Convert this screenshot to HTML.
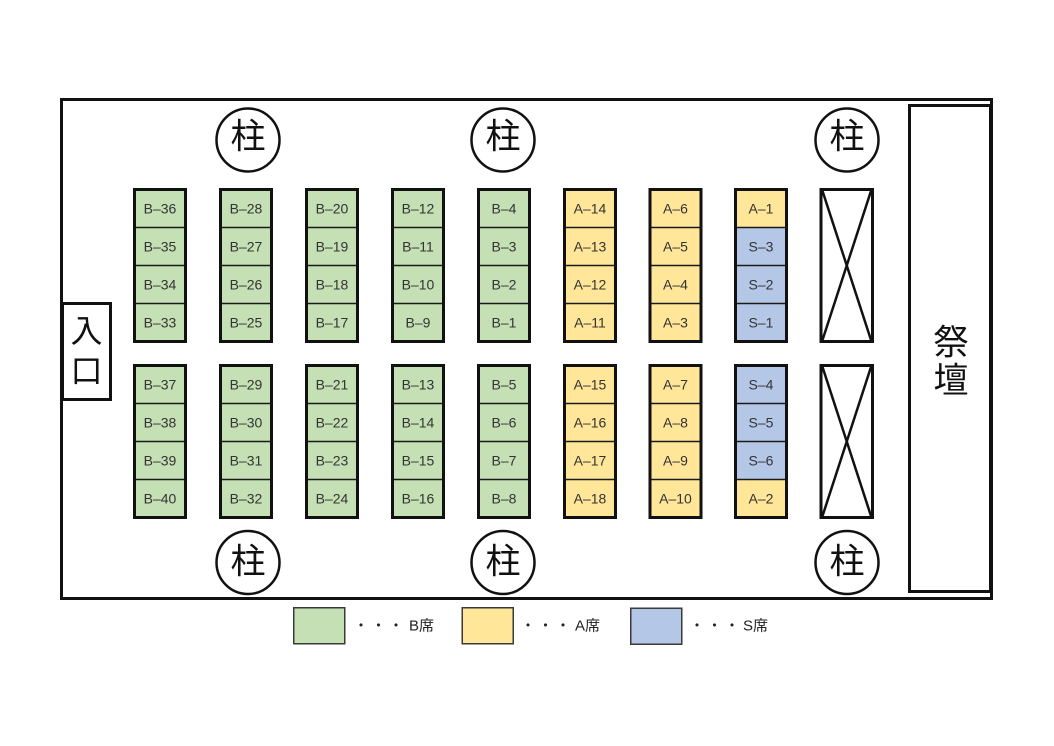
<!DOCTYPE html>
<html>
<head>
<meta charset="utf-8">
<style>
  html, body { margin: 0; padding: 0; background: #ffffff; }
  svg { display: block; }
  .lbl { font-family: "Liberation Sans", "Noto Sans CJK JP", sans-serif; font-size: 14px; fill: #333333; text-anchor: middle; dominant-baseline: central; }
  .big { font-family: "Liberation Sans", "Noto Sans CJK JP", sans-serif; fill: #111111; text-anchor: middle; dominant-baseline: central; }
  .leg { font-family: "Liberation Sans", "Noto Sans CJK JP", sans-serif; font-size: 15px; fill: #222222; dominant-baseline: central; }
</style>
</head>
<body>
<svg width="1054" height="746" viewBox="0 0 1054 746" xmlns="http://www.w3.org/2000/svg">
  <defs>
    <g id="div">
      <line x1="1.5" y1="39.5" x2="52.5" y2="39.5" stroke="#1a1a1a" stroke-width="1.5"/>
      <line x1="1.5" y1="77.5" x2="52.5" y2="77.5" stroke="#1a1a1a" stroke-width="1.5"/>
      <line x1="1.5" y1="115.5" x2="52.5" y2="115.5" stroke="#1a1a1a" stroke-width="1.5"/>
      <rect x="1.5" y="1.5" width="51" height="152" fill="none" stroke="#111111" stroke-width="3"/>
    </g>
  </defs>

  <rect x="0" y="0" width="1054" height="746" fill="#ffffff"/>

  <!-- outer room -->
  <rect x="61.5" y="99.5" width="930" height="499" fill="#ffffff" stroke="#111111" stroke-width="3"/>

  <!-- altar -->
  <rect x="909.5" y="105.5" width="81" height="486" fill="#ffffff" stroke="#111111" stroke-width="3"/>
  <text class="big" x="951" y="343" font-size="35">祭</text>
  <text class="big" x="951" y="381" font-size="35">壇</text>

  <!-- entrance -->
  <rect x="62.5" y="303.5" width="48" height="96" fill="#ffffff" stroke="#111111" stroke-width="3"/>
  <text class="big" x="86.5" y="331" font-size="32">入</text>
  <text class="big" x="86.5" y="371" font-size="32">口</text>

  <!-- pillars -->
  <g fill="#ffffff" stroke="#111111" stroke-width="2.5">
    <circle cx="248" cy="140" r="31.5"/>
    <circle cx="503" cy="140" r="31.5"/>
    <circle cx="847" cy="140" r="31.5"/>
    <circle cx="248" cy="562.5" r="31.5"/>
    <circle cx="503" cy="562.5" r="31.5"/>
    <circle cx="847" cy="562.5" r="31.5"/>
  </g>
  <g class="big" font-size="35">
    <text class="big" x="248" y="137" font-size="35">柱</text>
    <text class="big" x="503" y="137" font-size="35">柱</text>
    <text class="big" x="847" y="137" font-size="35">柱</text>
    <text class="big" x="248" y="562" font-size="35">柱</text>
    <text class="big" x="503" y="562" font-size="35">柱</text>
    <text class="big" x="847" y="562" font-size="35">柱</text>
  </g>

  <!-- ===== TOP BLOCKS (y=188) ===== -->
  <!-- col1 -->
  <g transform="translate(133,188)">
    <rect x="1.5" y="1.5" width="51" height="152" fill="#c5e0b4"/>
    <use href="#div"/>
    <text class="lbl" x="27" y="20.5">B–36</text>
    <text class="lbl" x="27" y="58.5">B–35</text>
    <text class="lbl" x="27" y="96.5">B–34</text>
    <text class="lbl" x="27" y="134.5">B–33</text>
  </g>
  <g transform="translate(219,188)">
    <rect x="1.5" y="1.5" width="51" height="152" fill="#c5e0b4"/>
    <use href="#div"/>
    <text class="lbl" x="27" y="20.5">B–28</text>
    <text class="lbl" x="27" y="58.5">B–27</text>
    <text class="lbl" x="27" y="96.5">B–26</text>
    <text class="lbl" x="27" y="134.5">B–25</text>
  </g>
  <g transform="translate(305,188)">
    <rect x="1.5" y="1.5" width="51" height="152" fill="#c5e0b4"/>
    <use href="#div"/>
    <text class="lbl" x="27" y="20.5">B–20</text>
    <text class="lbl" x="27" y="58.5">B–19</text>
    <text class="lbl" x="27" y="96.5">B–18</text>
    <text class="lbl" x="27" y="134.5">B–17</text>
  </g>
  <g transform="translate(391,188)">
    <rect x="1.5" y="1.5" width="51" height="152" fill="#c5e0b4"/>
    <use href="#div"/>
    <text class="lbl" x="27" y="20.5">B–12</text>
    <text class="lbl" x="27" y="58.5">B–11</text>
    <text class="lbl" x="27" y="96.5">B–10</text>
    <text class="lbl" x="27" y="134.5">B–9</text>
  </g>
  <g transform="translate(477,188)">
    <rect x="1.5" y="1.5" width="51" height="152" fill="#c5e0b4"/>
    <use href="#div"/>
    <text class="lbl" x="27" y="20.5">B–4</text>
    <text class="lbl" x="27" y="58.5">B–3</text>
    <text class="lbl" x="27" y="96.5">B–2</text>
    <text class="lbl" x="27" y="134.5">B–1</text>
  </g>
  <g transform="translate(563,188)">
    <rect x="1.5" y="1.5" width="51" height="152" fill="#ffe699"/>
    <use href="#div"/>
    <text class="lbl" x="27" y="20.5">A–14</text>
    <text class="lbl" x="27" y="58.5">A–13</text>
    <text class="lbl" x="27" y="96.5">A–12</text>
    <text class="lbl" x="27" y="134.5">A–11</text>
  </g>
  <g transform="translate(648.5,188)">
    <rect x="1.5" y="1.5" width="51" height="152" fill="#ffe699"/>
    <use href="#div"/>
    <text class="lbl" x="27" y="20.5">A–6</text>
    <text class="lbl" x="27" y="58.5">A–5</text>
    <text class="lbl" x="27" y="96.5">A–4</text>
    <text class="lbl" x="27" y="134.5">A–3</text>
  </g>
  <g transform="translate(734,188)">
    <rect x="1.5" y="1.5" width="51" height="152" fill="#b4c7e7"/>
    <rect x="1.5" y="1.5" width="51" height="38" fill="#ffe699"/>
    <use href="#div"/>
    <text class="lbl" x="27" y="20.5">A–1</text>
    <text class="lbl" x="27" y="58.5">S–3</text>
    <text class="lbl" x="27" y="96.5">S–2</text>
    <text class="lbl" x="27" y="134.5">S–1</text>
  </g>

  <!-- ===== BOTTOM BLOCKS (y=364) ===== -->
  <g transform="translate(133,364)">
    <rect x="1.5" y="1.5" width="51" height="152" fill="#c5e0b4"/>
    <use href="#div"/>
    <text class="lbl" x="27" y="20.5">B–37</text>
    <text class="lbl" x="27" y="58.5">B–38</text>
    <text class="lbl" x="27" y="96.5">B–39</text>
    <text class="lbl" x="27" y="134.5">B–40</text>
  </g>
  <g transform="translate(219,364)">
    <rect x="1.5" y="1.5" width="51" height="152" fill="#c5e0b4"/>
    <use href="#div"/>
    <text class="lbl" x="27" y="20.5">B–29</text>
    <text class="lbl" x="27" y="58.5">B–30</text>
    <text class="lbl" x="27" y="96.5">B–31</text>
    <text class="lbl" x="27" y="134.5">B–32</text>
  </g>
  <g transform="translate(305,364)">
    <rect x="1.5" y="1.5" width="51" height="152" fill="#c5e0b4"/>
    <use href="#div"/>
    <text class="lbl" x="27" y="20.5">B–21</text>
    <text class="lbl" x="27" y="58.5">B–22</text>
    <text class="lbl" x="27" y="96.5">B–23</text>
    <text class="lbl" x="27" y="134.5">B–24</text>
  </g>
  <g transform="translate(391,364)">
    <rect x="1.5" y="1.5" width="51" height="152" fill="#c5e0b4"/>
    <use href="#div"/>
    <text class="lbl" x="27" y="20.5">B–13</text>
    <text class="lbl" x="27" y="58.5">B–14</text>
    <text class="lbl" x="27" y="96.5">B–15</text>
    <text class="lbl" x="27" y="134.5">B–16</text>
  </g>
  <g transform="translate(477,364)">
    <rect x="1.5" y="1.5" width="51" height="152" fill="#c5e0b4"/>
    <use href="#div"/>
    <text class="lbl" x="27" y="20.5">B–5</text>
    <text class="lbl" x="27" y="58.5">B–6</text>
    <text class="lbl" x="27" y="96.5">B–7</text>
    <text class="lbl" x="27" y="134.5">B–8</text>
  </g>
  <g transform="translate(563,364)">
    <rect x="1.5" y="1.5" width="51" height="152" fill="#ffe699"/>
    <use href="#div"/>
    <text class="lbl" x="27" y="20.5">A–15</text>
    <text class="lbl" x="27" y="58.5">A–16</text>
    <text class="lbl" x="27" y="96.5">A–17</text>
    <text class="lbl" x="27" y="134.5">A–18</text>
  </g>
  <g transform="translate(648.5,364)">
    <rect x="1.5" y="1.5" width="51" height="152" fill="#ffe699"/>
    <use href="#div"/>
    <text class="lbl" x="27" y="20.5">A–7</text>
    <text class="lbl" x="27" y="58.5">A–8</text>
    <text class="lbl" x="27" y="96.5">A–9</text>
    <text class="lbl" x="27" y="134.5">A–10</text>
  </g>
  <g transform="translate(734,364)">
    <rect x="1.5" y="1.5" width="51" height="152" fill="#b4c7e7"/>
    <rect x="1.5" y="115.5" width="51" height="38" fill="#ffe699"/>
    <use href="#div"/>
    <text class="lbl" x="27" y="20.5">S–4</text>
    <text class="lbl" x="27" y="58.5">S–5</text>
    <text class="lbl" x="27" y="96.5">S–6</text>
    <text class="lbl" x="27" y="134.5">A–2</text>
  </g>

  <!-- X boxes -->
  <g stroke="#111111" fill="#ffffff">
    <rect x="821" y="189.5" width="51.5" height="152" stroke-width="3"/>
    <line x1="822.5" y1="191" x2="871" y2="340" stroke-width="2.5"/>
    <line x1="871" y1="191" x2="822.5" y2="340" stroke-width="2.5"/>
    <rect x="821" y="365.5" width="51.5" height="152" stroke-width="3"/>
    <line x1="822.5" y1="367" x2="871" y2="516" stroke-width="2.5"/>
    <line x1="871" y1="367" x2="822.5" y2="516" stroke-width="2.5"/>
  </g>

  <!-- Legend -->
  <rect x="293.75" y="607.75" width="51" height="36" fill="#c5e0b4" stroke="#3a3a3a" stroke-width="1.5"/>
  <text class="leg" x="361" y="626" text-anchor="middle">・</text>
  <text class="leg" x="378.5" y="626" text-anchor="middle">・</text>
  <text class="leg" x="396" y="626" text-anchor="middle">・</text>
  <text class="leg" x="409" y="626">B席</text>

  <rect x="462.25" y="607.75" width="51" height="36" fill="#ffe699" stroke="#3a3a3a" stroke-width="1.5"/>
  <text class="leg" x="528" y="626" text-anchor="middle">・</text>
  <text class="leg" x="545.5" y="626" text-anchor="middle">・</text>
  <text class="leg" x="563" y="626" text-anchor="middle">・</text>
  <text class="leg" x="575" y="626">A席</text>

  <rect x="630.75" y="608.25" width="51" height="36" fill="#b4c7e7" stroke="#3a3a3a" stroke-width="1.5"/>
  <text class="leg" x="697" y="626" text-anchor="middle">・</text>
  <text class="leg" x="714.5" y="626" text-anchor="middle">・</text>
  <text class="leg" x="732" y="626" text-anchor="middle">・</text>
  <text class="leg" x="743" y="626">S席</text>
</svg>
</body>
</html>
